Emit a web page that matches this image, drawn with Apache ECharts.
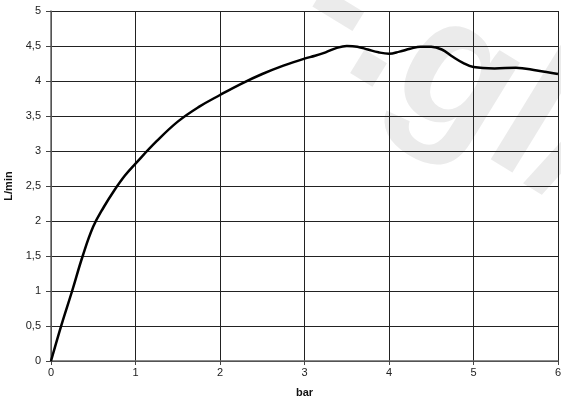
<!DOCTYPE html>
<html><head><meta charset="utf-8">
<script src="https://cdn.jsdelivr.net/npm/echarts@6/dist/echarts.min.js"></script>
<style>html,body{margin:0;padding:0;background:#fff}#c{width:561px;height:406px}</style>
</head><body><div id="c"></div>
<script>
var xName = 'bar';
var yName = 'L/min';
var pressure = [0,0.125,0.25,0.375,0.5,0.625,0.75,0.875,1,1.25,1.5,1.75,2,2.25,2.5,2.75,3,3.125,3.25,3.375,3.5,3.625,3.75,3.875,4,4.125,4.25,4.375,4.5,4.625,4.75,4.875,5,5.25,5.5,5.75,6];
var flow =     [0,0.52,1.0,1.5,1.92,2.2,2.44,2.65,2.82,3.14,3.42,3.63,3.8,3.96,4.1,4.22,4.32,4.36,4.41,4.47,4.5,4.49,4.45,4.41,4.39,4.42,4.46,4.49,4.49,4.45,4.35,4.26,4.2,4.18,4.19,4.15,4.1];

var chart = echarts.init(document.getElementById('c'), null, {renderer:'canvas'});
var fmt = function(v){ return String(v).replace('.', ','); };
chart.setOption({
  animation:false,
  backgroundColor:'#fff',
  graphic:[{
    type:'text', z:-10, x:362, y:-88, rotation:-0.55,
    style:{text:'-.gl/', x:0, y:0, fill:'#ebebeb', font:'bold 185px "Liberation Sans", Arial'}
  }],
  grid:{left:51, right:3, top:11, bottom:45, show:false, containLabel:false, outerBoundsMode:'none'},
  xAxis:{
    type:'value', min:0, max:6, interval:1,
    name:xName, nameLocation:'middle', nameGap:26,
    nameTextStyle:{color:'#111', fontWeight:'bold', fontSize:11, fontFamily:'Liberation Sans'},
    axisLine:{show:true, onZero:false, lineStyle:{color:'#666', width:1.5}},
    axisTick:{show:true, length:4, lineStyle:{color:'#444'}},
    axisLabel:{color:'#222', fontSize:11, margin:6, fontFamily:'Liberation Sans', formatter:fmt},
    splitLine:{show:true, lineStyle:{color:'#222', width:1}}
  },
  yAxis:{
    type:'value', min:0, max:5, interval:0.5,
    name:yName, nameLocation:'middle', nameGap:34, nameRotate:90,
    nameTextStyle:{color:'#111', fontWeight:'bold', fontSize:11, fontFamily:'Liberation Sans'},
    axisLine:{show:true, onZero:false, lineStyle:{color:'#666', width:1.5}},
    axisTick:{show:true, length:5, lineStyle:{color:'#444'}},
    axisLabel:{color:'#222', fontSize:11, margin:10, fontFamily:'Liberation Sans', formatter:fmt},
    splitLine:{show:true, lineStyle:{color:'#222', width:1}}
  },
  series:[{
    type:'line', data:pressure.map(function(p,i){return [p, flow[i]];}),
    smooth:0.4, symbol:'none', clip:false,
    lineStyle:{color:'#000', width:2.5}
  }]
});
</script></body></html>
